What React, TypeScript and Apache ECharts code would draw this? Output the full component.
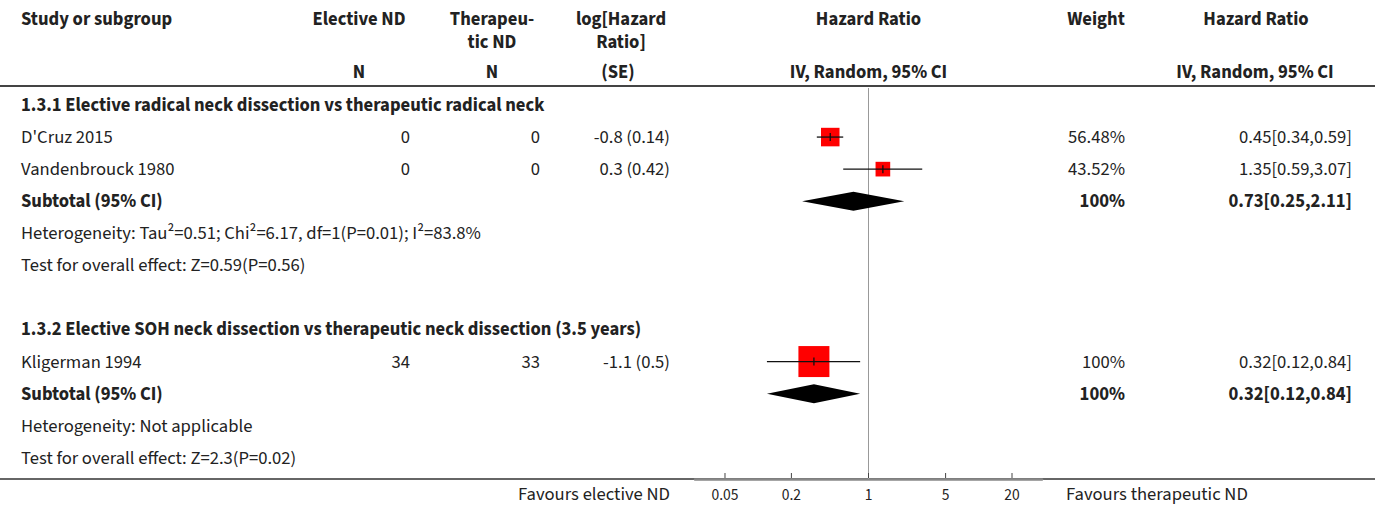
import React, { useEffect, useRef } from "react";
import * as echarts from "echarts";

const FONT = "'Source Sans Pro', 'Source Sans 3', Lato, sans-serif";

// ---- data ----
const studyNames = ["D'Cruz 2015", "Vandenbrouck 1980", "Kligerman 1994"];
const studyRows = [1, 2, 8];
const electiveN = [0, 0, 34];
const therapeuticN = [0, 0, 33];
const logHRText = ["-0.8 (0.14)", "0.3 (0.42)", "-1.1 (0.5)"];
const studyWeights = [56.48, 43.52, 100];
const studyHR = [0.45, 1.35, 0.32];
const studyLo = [0.34, 0.59, 0.12];
const studyHi = [0.59, 3.07, 0.84];

const groupTitles = [
  "1.3.1 Elective radical neck dissection vs therapeutic radical neck",
  "1.3.2 Elective SOH neck dissection vs therapeutic neck dissection (3.5 years)",
];
const groupTitleRows = [0, 7];
const subtotalRows = [3, 9];
const subtotalWeights = [100, 100];
const subtotalHR = [0.73, 0.32];
const subtotalLo = [0.25, 0.12];
const subtotalHi = [2.11, 0.84];
const heterogeneityText = [
  "Heterogeneity: Tau²=0.51; Chi²=6.17, df=1(P=0.01); I²=83.8%",
  "Heterogeneity: Not applicable",
];
const heterogeneityRows = [4, 10];
const overallEffectText = [
  "Test for overall effect: Z=0.59(P=0.56)",
  "Test for overall effect: Z=2.3(P=0.02)",
];
const overallEffectRows = [5, 11];

const axisTickValues = [0.05, 0.2, 1, 5, 20];
const axisLabels = ["0.05", "0.2", "1", "5", "20"];
const axisLimit = 37.4;

// ---- layout ----
const W = 1375;
const H = 509;
const GRID_LEFT = 695;
const GRID_RIGHT = 1042;
const GRID_TOP = 88;
const GRID_BOTTOM = 479;
const ROW_FIRST = 105;
const ROW_STEP = 32.07;
const LEFT = 21;
const rowY = (k: number) => ROW_FIRST + ROW_STEP * k;
const yMin = -(ROW_FIRST - GRID_TOP) / ROW_STEP;
const yMax = yMin + (GRID_BOTTOM - GRID_TOP) / ROW_STEP;

const fmt = (hr: number, lo: number, hi: number) =>
  `${hr.toFixed(2)}[${lo.toFixed(2)},${hi.toFixed(2)}]`;
const fmtW = (w: number) => `${w}%`;
const squareSize = (w: number) => 31 * Math.pow(w / 100, 0.9);

const FS = 18.6;

function txt(
  text: string,
  x: number,
  y: number,
  align: string,
  bold = false,
  size = FS,
  fill = "#222"
) {
  return {
    type: "text",
    x,
    y,
    silent: true,
    style: {
      text,
      fill,
      fontSize: size,
      fontFamily: FONT,
      fontWeight: bold ? "bold" : "normal",
      align,
      verticalAlign: "middle",
    },
  };
}

export default function App() {
  const ref = useRef<HTMLDivElement>(null);

  useEffect(() => {
    document.body.style.margin = "0";
    if (!ref.current) return;
    const chart = echarts.init(ref.current, undefined, { renderer: "svg" });

    const graphics: any[] = [];
    // header
    const hy1 = 19;
    const hy2 = 42;
    const hy3 = 72;
    graphics.push(txt("Study or subgroup", LEFT, hy1, "left", true));
    graphics.push(txt("Elective ND", 359, hy1, "center", true));
    graphics.push(txt("Therapeu-", 492, hy1, "center", true));
    graphics.push(txt("tic ND", 492, hy2, "center", true));
    graphics.push(txt("log[Hazard", 621, hy1, "center", true));
    graphics.push(txt("Ratio]", 621, hy2, "center", true));
    graphics.push(txt("Hazard Ratio", 868.5, hy1, "center", true));
    graphics.push(txt("Weight", 1096, hy1, "center", true));
    graphics.push(txt("Hazard Ratio", 1256, hy1, "center", true));
    graphics.push(txt("N", 359, hy3, "center", true));
    graphics.push(txt("N", 492, hy3, "center", true));
    graphics.push(txt("(SE)", 618, hy3, "center", true));
    graphics.push(txt("IV, Random, 95% CI", 868.5, hy3, "center", true));
    graphics.push(txt("IV, Random, 95% CI", 1255, hy3, "center", true));

    graphics.push({
      type: "line",
      silent: true,
      shape: { x1: 0, y1: 86, x2: W, y2: 86 },
      style: { stroke: "#444", lineWidth: 2 },
    });
    graphics.push({
      type: "line",
      silent: true,
      shape: { x1: 0, y1: GRID_BOTTOM, x2: W, y2: GRID_BOTTOM },
      style: { stroke: "#333", lineWidth: 1.5 },
    });

    groupTitles.forEach((t, i) => {
      graphics.push(txt(t, LEFT, rowY(groupTitleRows[i]), "left", true));
    });
    studyNames.forEach((n, i) => {
      const y = rowY(studyRows[i]);
      graphics.push(txt(n, LEFT, y, "left"));
      graphics.push(txt(String(electiveN[i]), 410, y, "right"));
      graphics.push(txt(String(therapeuticN[i]), 540, y, "right"));
      graphics.push(txt(logHRText[i], 670, y, "right"));
      graphics.push(txt(fmtW(studyWeights[i]), 1125, y, "right"));
      graphics.push(txt(fmt(studyHR[i], studyLo[i], studyHi[i]), 1352, y, "right"));
    });
    subtotalRows.forEach((r, i) => {
      const y = rowY(r);
      graphics.push(txt("Subtotal (95% CI)", LEFT, y, "left", true));
      graphics.push(txt(fmtW(subtotalWeights[i]), 1125, y, "right", true));
      graphics.push(txt(fmt(subtotalHR[i], subtotalLo[i], subtotalHi[i]), 1352, y, "right", true));
    });
    heterogeneityText.forEach((t, i) => {
      graphics.push(txt(t, LEFT, rowY(heterogeneityRows[i]), "left"));
    });
    overallEffectText.forEach((t, i) => {
      graphics.push(txt(t, LEFT, rowY(overallEffectRows[i]), "left"));
    });
    graphics.push(txt("Favours elective ND", 670, 494, "right"));
    graphics.push(txt("Favours therapeutic ND", 1066, 494, "left"));

    const studyData = studyNames.map((_, i) => [
      Math.log(studyHR[i]),
      studyRows[i],
      Math.log(studyLo[i]),
      Math.log(studyHi[i]),
      squareSize(studyWeights[i]),
    ]);
    const diamondData = subtotalRows.map((r, i) => [
      Math.log(subtotalHR[i]),
      r,
      Math.log(subtotalLo[i]),
      Math.log(subtotalHi[i]),
    ]);
    const tickLn = axisTickValues.map((v) => Math.log(v));

    chart.setOption({
      animation: false,
      grid: {
        left: GRID_LEFT,
        width: GRID_RIGHT - GRID_LEFT,
        top: GRID_TOP,
        height: GRID_BOTTOM - GRID_TOP,
        containLabel: false,
      },
      xAxis: {
        type: "value",
        position: "bottom",
        min: Math.log(1 / axisLimit),
        max: Math.log(axisLimit),
        splitLine: { show: false },
        axisLine: { show: true, onZero: false, lineStyle: { color: "#888", width: 2.5 } },
        axisTick: { show: false },
        axisLabel: {
          customValues: tickLn,
          margin: 8,
          fontSize: 15.5,
          fontFamily: FONT,
          color: "#222",
          formatter: (v: number) => {
            let best = 0;
            tickLn.forEach((t, i) => {
              if (Math.abs(t - v) < Math.abs(tickLn[best] - v)) best = i;
            });
            return axisLabels[best];
          },
        },
      },
      yAxis: {
        type: "value",
        inverse: true,
        min: yMin,
        max: yMax,
        show: false,
      },
      graphic: graphics,
      series: [
        {
          type: "custom",
          name: "ref",
          data: [[0, 0]],
          renderItem: (params: any, api: any) => {
            const top = api.coord([0, yMin]);
            const bot = api.coord([0, yMax]);
            return {
              type: "line",
              shape: { x1: top[0], y1: top[1], x2: bot[0], y2: bot[1] },
              style: { stroke: "#999", lineWidth: 1 },
            };
          },
          z: 1,
        },
        {
          type: "custom",
          name: "ticks",
          data: tickLn.map((v) => [v, yMax]),
          clip: false,
          z: 4,
          renderItem: (params: any, api: any) => {
            const p = api.coord([api.value(0), api.value(1)]);
            return {
              type: "line",
              shape: { x1: p[0], y1: p[1] - 1, x2: p[0], y2: p[1] - 6 },
              style: { stroke: "#444", lineWidth: 1 },
            };
          },
        },
        {
          type: "custom",
          name: "studies",
          data: studyData,
          clip: false,
          z: 3,
          renderItem: (params: any, api: any) => {
            const c = api.coord([api.value(0), api.value(1)]);
            const l = api.coord([api.value(2), api.value(1)]);
            const h = api.coord([api.value(3), api.value(1)]);
            const s = api.value(4);
            return {
              type: "group",
              children: [
                {
                  type: "rect",
                  shape: { x: c[0] - s / 2, y: c[1] - s / 2, width: s, height: s },
                  style: { fill: "#ff0000" },
                },
                {
                  type: "line",
                  shape: { x1: l[0], y1: c[1], x2: h[0], y2: c[1] },
                  style: { stroke: "#111", lineWidth: 1.3 },
                },
                {
                  type: "line",
                  shape: { x1: c[0], y1: c[1] - 4, x2: c[0], y2: c[1] + 4 },
                  style: { stroke: "#111", lineWidth: 1.3 },
                },
              ],
            };
          },
        },
        {
          type: "custom",
          name: "subtotals",
          data: diamondData,
          clip: false,
          z: 3,
          renderItem: (params: any, api: any) => {
            const c = api.coord([api.value(0), api.value(1)]);
            const l = api.coord([api.value(2), api.value(1)]);
            const h = api.coord([api.value(3), api.value(1)]);
            const d = 9.5;
            return {
              type: "polygon",
              shape: {
                points: [
                  [l[0], c[1]],
                  [c[0], c[1] - d],
                  [h[0], c[1]],
                  [c[0], c[1] + d],
                ],
              },
              style: { fill: "#000" },
            };
          },
        },
      ],
    });

    return () => chart.dispose();
  }, []);

  return <div ref={ref} style={{ width: W, height: H }} />;
}
